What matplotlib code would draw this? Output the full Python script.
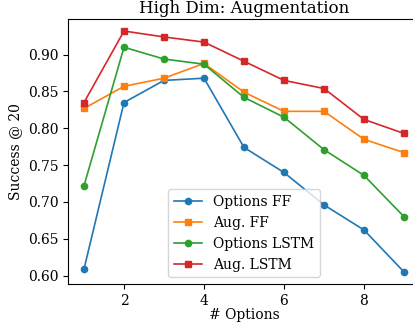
import matplotlib
matplotlib.use("Agg")
import matplotlib.pyplot as plt

plt.rcParams['font.family'] = 'DejaVu Serif'

# number of options
n_options = [1, 2, 3, 4, 5, 6, 7, 8, 9]

# success @ 20 for each model
options_ff = [0.609, 0.835, 0.865, 0.868, 0.774, 0.740, 0.696, 0.662, 0.605]
aug_ff = [0.827, 0.857, 0.868, 0.888, 0.849, 0.823, 0.823, 0.785, 0.767]
options_lstm = [0.722, 0.910, 0.894, 0.887, 0.842, 0.815, 0.771, 0.736, 0.680]
aug_lstm = [0.835, 0.932, 0.924, 0.917, 0.891, 0.865, 0.854, 0.812, 0.793]

fig = plt.figure(figsize=(4.13, 3.23), dpi=100)
# axes runs past the right edge, as in the original (cropped) figure
ax = fig.add_axes([68 / 413, 39 / 323, 352 / 413, 265 / 323])

ax.plot(n_options, options_ff, 'o-', color='#1f77b4', lw=1.2, ms=4.5, label='Options FF')
ax.plot(n_options, aug_ff, 's-', color='#ff7f0e', lw=1.2, ms=4.5, label='Aug. FF')
ax.plot(n_options, options_lstm, 'o-', color='#2ca02c', lw=1.2, ms=4.5, label='Options LSTM')
ax.plot(n_options, aug_lstm, 's-', color='#d62728', lw=1.2, ms=4.5, label='Aug. LSTM')

ax.set_title('High Dim: Augmentation', fontsize=12, pad=4)
ax.set_xlabel('# Options', fontsize=10, labelpad=0)
ax.set_ylabel('Success @ 20', fontsize=10)
ax.tick_params(labelsize=10)
ax.set_xticks([2, 4, 6, 8])
ax.legend(loc='lower center', fontsize=10)

fig.savefig('out.png', dpi=100)
